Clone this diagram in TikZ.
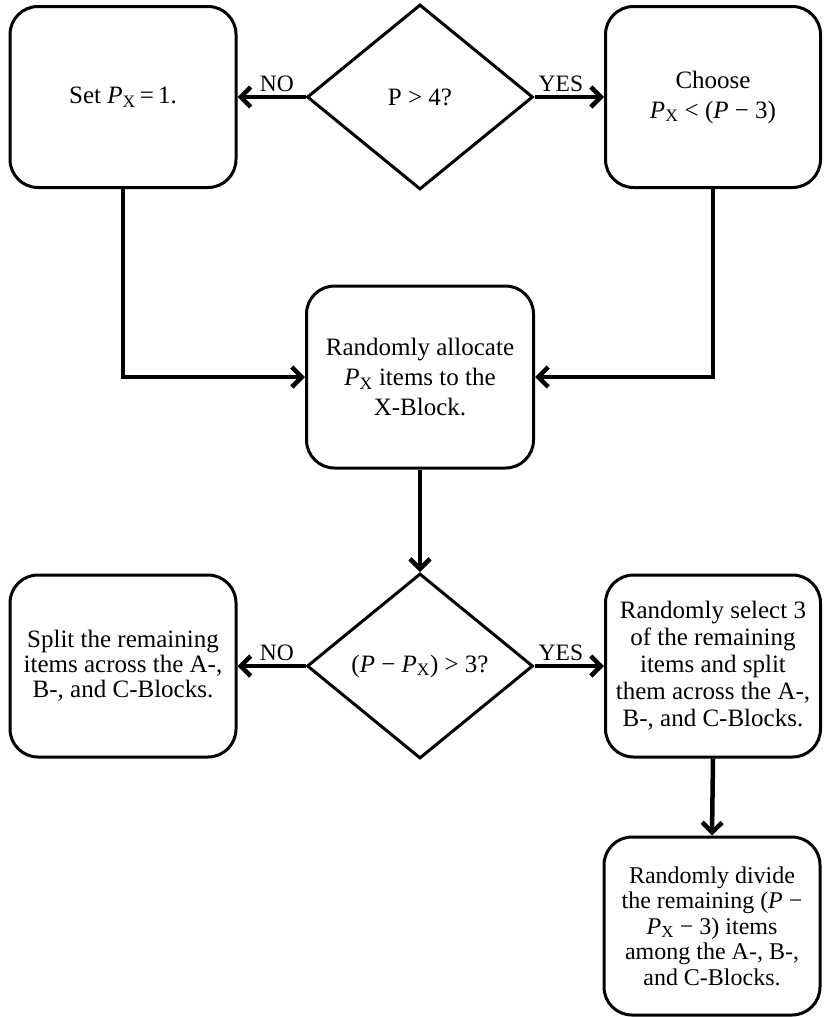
\documentclass[tikz,border=0pt]{standalone}
\usepackage{fontspec}
\setmainfont{Liberation Serif}
\usetikzlibrary{arrows.meta,shapes.geometric}
\newcommand{\PX}{\textit{P}\textsubscript{X}}

\begin{document}
\begin{tikzpicture}[x=1pt,y=-1pt,
		box/.style={draw, line width=3pt, rounded corners=28pt, align=center, inner sep=0pt, font=\fontsize{25}{30}\selectfont},
		decision/.style={draw, diamond, line width=3pt, inner sep=0pt, minimum width=226pt, minimum height=185pt, font=\fontsize{25}{30}\selectfont},
		arr/.style={line width=4.5pt, -{Straight Barb[length=10pt,width=20pt]}},
		lbl/.style={font=\fontsize{23.5}{26}\selectfont, inner sep=3pt}]
			%%%%% START %%%%%
			
			\useasboundingbox (0, 0) rectangle (823, 1017);
			
			% first decision
			\node[decision] (bigp) at (420, 97) {P > 4?};
			\node[box, minimum width=226pt, minimum height=181pt] (setpx) at (123, 97) {Set \PX\,=\,1.};
			\node[box, minimum width=215pt, minimum height=181pt] (choose) at (713, 97) {Choose\\ \PX{} < (\textit{P} − 3)};
			
			\node[box, minimum width=227pt, minimum height=182pt] (alloc) at (420, 377) {Randomly allocate\\ \PX{} items to the\\ X-Block.};
			
			% second decision
			\node[decision] (rest) at (420, 666) {(\textit{P} − \PX) > 3?};
			\node[box, minimum width=226pt, minimum height=182pt, font=\fontsize{25}{25}\selectfont] (split) at (123, 666) {Split the remaining\\ items across the A-,\\ B-, and C-Blocks.};
			\node[box, minimum width=215pt, minimum height=182pt, font=\fontsize{25}{27}\selectfont] (select) at (713, 666) {Randomly select 3\\ of the remaining\\ items and split\\ them across the A-,\\ B-, and C-Blocks.};
			
			\node[box, minimum width=216pt, minimum height=178pt, font=\fontsize{24}{25.5}\selectfont] (divide) at (712, 926) {Randomly divide\\ the remaining (\textit{P} −\\ \PX{} − 3) items\\ among the A-, B-,\\ and C-Blocks.};
			
			% connectors
			\draw[arr] (bigp.west) -- node[lbl, above, pos=0.42] {NO} (setpx.east);
			\draw[arr] (bigp.east) -- node[lbl, above, pos=0.38] {YES} (choose.east -| choose.west);
			\draw[arr] (setpx.south) |- (alloc.west);
			\draw[arr] (choose.south) |- (alloc.east);
			\draw[arr] (alloc.south) -- (rest.north);
			\draw[arr] (rest.west) -- node[lbl, above, pos=0.42] {NO} (split.east);
			\draw[arr] (rest.east) -- node[lbl, above, pos=0.38] {YES} (select.west);
			\draw[arr] (select.south) -- (divide.north);
			
			%%%%% END %%%%%
		\end{tikzpicture}
\end{document}
